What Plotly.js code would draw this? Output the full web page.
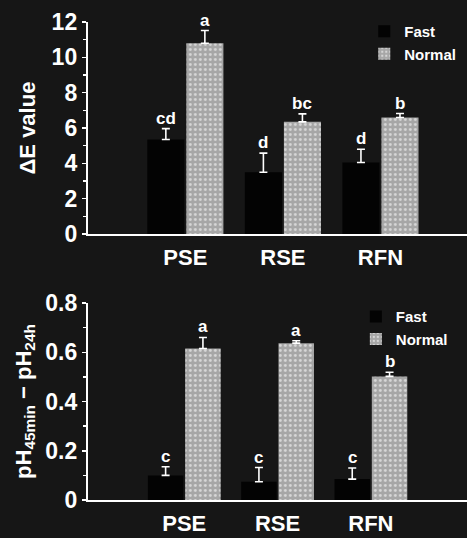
<!DOCTYPE html>
<html>
<head>
<meta charset="utf-8">
<script src="https://cdn.plot.ly/plotly-3.0.1.min.js"></script>
<style>
html,body{margin:0;padding:0;background:#161616;}
#chart{width:467px;height:538px;}
</style>
</head>
<body>
<div id="chart"></div>
<script>
// Categories
const categories = ['PSE', 'RSE', 'RFN'];
const seriesNames = ['Fast', 'Normal'];

// Top panel: ΔE value
const deltaEFast = [5.35, 3.5, 4.05];
const deltaEFastErr = [0.62, 1.08, 0.75];
const deltaENormal = [10.8, 6.35, 6.6];
const deltaENormalErr = [0.72, 0.45, 0.22];
const deltaEFastLetters = ['cd', 'd', 'd'];
const deltaENormalLetters = ['a', 'bc', 'b'];

// Bottom panel: pH45min − pH24h
const phFast = [0.10, 0.074, 0.085];
const phFastErr = [0.035, 0.058, 0.045];
const phNormal = [0.615, 0.637, 0.502];
const phNormalErr = [0.045, 0.01, 0.017];
const phFastLetters = ['c', 'c', 'c'];
const phNormalLetters = ['a', 'a', 'b'];

const FONT = 'Liberation Sans, Arial, sans-serif';
const WHITE = '#ffffff';
const FAST_COLOR = '#030303';
const NORMAL_COLOR = '#a6a6a6';
const BG = '#161616';

function errSpec(arr) {
  return {type: 'data', symmetric: false, array: arr, arrayminus: arr.map(() => 0),
          color: WHITE, thickness: 1.6, width: 4, visible: true};
}

function barTrace(name, y, err, color, xa, ya, legend, patterned) {
  const marker = {color: color, line: {width: 0}};
  if (patterned) {
    marker.pattern = {shape: '.', bgcolor: color, fgcolor: '#d8d8d8', size: 5, solidity: 0.25, fillmode: 'replace'};
  }
  return {
    type: 'bar', name: name, x: categories, y: y,
    xaxis: xa, yaxis: ya, legend: legend,
    marker: marker,
    error_y: errSpec(err),
    hoverinfo: 'skip'
  };
}

const data = [
  barTrace(seriesNames[0], deltaEFast, deltaEFastErr, FAST_COLOR, 'x', 'y', 'legend', false),
  barTrace(seriesNames[1], deltaENormal, deltaENormalErr, NORMAL_COLOR, 'x', 'y', 'legend', true),
  barTrace(seriesNames[0], phFast, phFastErr, FAST_COLOR, 'x2', 'y2', 'legend2', false),
  barTrace(seriesNames[1], phNormal, phNormalErr, NORMAL_COLOR, 'x2', 'y2', 'legend2', true)
];

const annotations = [];
function addLetters(vals, errs, letters, offset, xref, yref) {
  vals.forEach((v, i) => {
    annotations.push({
      x: i + offset, y: v + errs[i], xref: xref, yref: yref,
      text: letters[i], showarrow: false, yanchor: 'bottom', yshift: -1,
      font: {family: FONT, size: 17, color: WHITE, weight: 'bold'}
    });
  });
}
addLetters(deltaEFast, deltaEFastErr, deltaEFastLetters, -0.2, 'x', 'y');
addLetters(deltaENormal, deltaENormalErr, deltaENormalLetters, 0.2, 'x', 'y');
addLetters(phFast, phFastErr, phFastLetters, -0.2, 'x2', 'y2');
addLetters(phNormal, phNormalErr, phNormalLetters, 0.2, 'x2', 'y2');

const axisFont = {family: FONT, size: 23, color: WHITE, weight: 'bold'};
const catFont = {family: FONT, size: 22, color: WHITE, weight: 'bold'};

function xAxis(range, anchor) {
  return {
    type: 'category', domain: [0.188, 1], range: range, anchor: anchor,
    showline: true, linecolor: WHITE, linewidth: 2, showgrid: false, zeroline: false,
    ticks: '', tickfont: catFont, ticklabelstandoff: 3, fixedrange: true
  };
}
function yAxis(domain, range, dtick, anchor, title, standoff) {
  return {
    domain: domain, range: range, dtick: dtick, anchor: anchor,
    showline: true, linecolor: WHITE, linewidth: 2, showgrid: false, zeroline: false,
    ticks: 'outside', ticklen: 4, tickwidth: 1.5, tickcolor: WHITE,
    minor: {ticks: 'outside', ticklen: 3, tickcolor: WHITE, dtick: dtick / 2},
    tickfont: axisFont, ticklabelstandoff: 0,
    title: {text: title, font: {family: FONT, size: 22, color: WHITE, weight: 'bold'}, standoff: standoff},
    fixedrange: true
  };
}

const legendBase = {
  font: {family: FONT, size: 15, color: WHITE, weight: 'bold'},
  bgcolor: 'rgba(0,0,0,0)', borderwidth: 0, xanchor: 'left', yanchor: 'top',
  tracegroupgap: 0, itemwidth: 30
};

const layout = {
  width: 467, height: 538,
  margin: {l: 0, r: 0, t: 0, b: 0},
  paper_bgcolor: BG, plot_bgcolor: BG,
  font: {family: FONT, color: WHITE},
  barmode: 'group', bargap: 0.2, bargroupgap: 0.05,
  showlegend: true,
  xaxis: xAxis([-1.0, 2.887], 'y'),
  yaxis: yAxis([0.565, 0.959], [0, 12], 2, 'x', 'ΔE value', 10),
  xaxis2: xAxis([-1.034, 3.03], 'y2'),
  yaxis2: yAxis([0.0706, 0.4368], [0, 0.8], 0.2, 'x2', 'pH<sub>45min</sub> − pH<sub>24h</sub>', 8),
  legend: Object.assign({x: 0.78, y: 0.972}, legendBase),
  legend2: Object.assign({x: 0.762, y: 0.442}, legendBase),
  annotations: annotations
};

Plotly.newPlot('chart', data, layout, {displayModeBar: false, staticPlot: true});
</script>
</body>
</html>
